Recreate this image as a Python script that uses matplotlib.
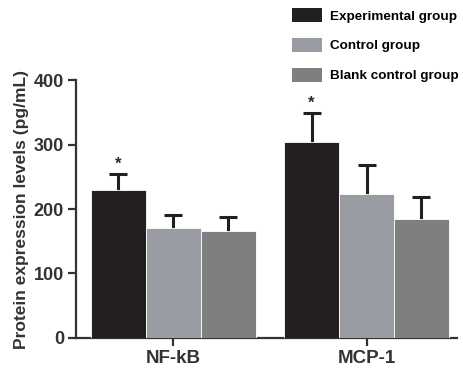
import matplotlib
matplotlib.use("Agg")
import matplotlib.pyplot as plt
import numpy as np
from matplotlib.patches import Patch

plt.rcParams['font.family'] = ['Liberation Sans', 'DejaVu Sans']
plt.rcParams['font.weight'] = 'bold'

categories = ["NF-kB", "MCP-1"]
groups = ["Experimental group", "Control group", "Blank control group"]
means = {
    "Experimental group": [230, 304],
    "Control group": [171, 224],
    "Blank control group": [166, 185],
}
errors = {
    "Experimental group": [24, 45],
    "Control group": [20, 44],
    "Blank control group": [21, 33],
}
colors = ["#231f20", "#9a9ca3", "#7f7f81"]
yticks = [0, 100, 200, 300, 400]

fig = plt.figure(figsize=(4.63, 3.68), dpi=100)
ax = fig.add_axes([0.165, 0.082, 0.823, 0.70])

x = np.arange(len(categories))
w = 0.284
for i, g in enumerate(groups):
    pos = x + (i - 1) * w
    ax.bar(pos, means[g], width=w, color=colors[i], edgecolor="white", linewidth=0.6, zorder=3)
    ax.errorbar(pos, means[g], yerr=errors[g], fmt="none",
                ecolor="#231f20", elinewidth=2.2, capsize=6.5, capthick=2.2, zorder=2)
    if g == "Experimental group":
        for p, m, e in zip(pos, means[g], errors[g]):
            ax.text(p, m + e + 4, "*", ha="center", va="bottom", fontsize=12, color="#2a2a2a")

ax.set_xlim(-0.5, 1.47)
ax.set_ylim(0, 400)
ax.set_yticks(yticks)
ax.set_xticks(x)
ax.set_xticklabels(categories, fontsize=13.5, fontweight="bold", color="#333333")
ax.set_yticklabels([str(t) for t in yticks], fontsize=13, fontweight="bold", color="#333333")
ax.set_ylabel("Protein expression levels (pg/mL)", fontsize=12.5, fontweight="bold", color="#333333", labelpad=3)
for s in ["top", "right"]:
    ax.spines[s].set_visible(False)
for s in ["left", "bottom"]:
    ax.spines[s].set_linewidth(1.6)
    ax.spines[s].set_color("#333333")
ax.tick_params(axis="both", width=1.6, length=6, color="#333333", pad=3)

handles = [Patch(facecolor=c, edgecolor="none") for c in colors]
fig.legend(handles, groups, loc="upper left", bbox_to_anchor=(0.631, 0.978), frameon=False,
           borderaxespad=0, borderpad=0,
           handlelength=2.2, handleheight=1.25, labelspacing=1.12, handletextpad=0.6,
           prop={"weight": "bold", "size": 9.7})

fig.savefig("out.png", dpi=100)
